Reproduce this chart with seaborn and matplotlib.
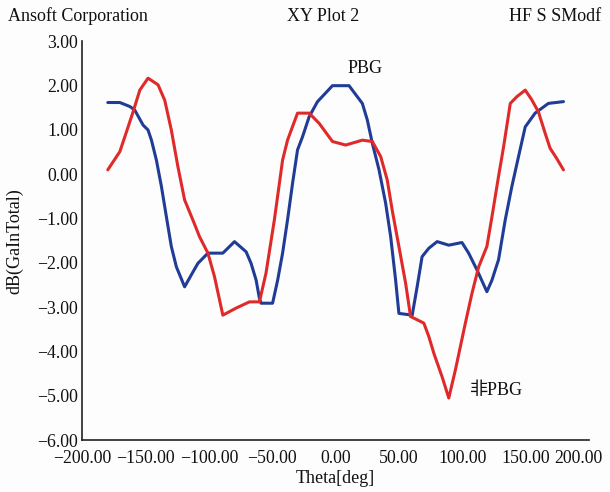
import matplotlib
matplotlib.use("Agg")
import matplotlib.pyplot as plt
import matplotlib.transforms as mtransforms
import seaborn as sns
import pandas as pd
from matplotlib.ticker import FuncFormatter

# ---- data ----
pbg_theta = [-180, -170.5, -162.6, -158.7, -152.1, -148.2, -145.5, -141.6, -137.6, -133.7,
             -129.8, -125.8, -119.3, -114, -108.8, -100.9, -89.1, -79.9, -70.7, -66.8,
             -62.8, -60.2, -58.9, -49.8, -45.8, -41.9, -38, -34, -30.1, -26.1,
             -20.9, -14.3, -5.1, -2.5, 10.6, 21.1, 25, 29, 34.3, 39.5,
             43.5, 47.4, 50, 60.5, 64.4, 68.3, 73.6, 80.2, 89.4, 99.8,
             105.1, 111.7, 119.5, 123.5, 128.7, 134, 139.2, 144.5, 149.8, 157.6,
             168.1, 180]
pbg_db = [1.62, 1.62, 1.53, 1.45, 1.11, 1.0, 0.77, 0.32, -0.28, -0.96,
          -1.63, -2.09, -2.54, -2.27, -2.01, -1.78, -1.78, -1.52, -1.75, -2.01,
          -2.39, -2.80, -2.91, -2.91, -2.39, -1.78, -1.03, -0.2, 0.55, 0.85,
          1.3, 1.64, 1.92, 2.0, 2.0, 1.6, 1.23, 0.7, 0.1, -0.65,
          -1.41, -2.39, -3.14, -3.18, -2.54, -1.86, -1.67, -1.52, -1.6, -1.54,
          -1.78, -2.16, -2.65, -2.39, -1.93, -1.03, -0.28, 0.4, 1.07, 1.38,
          1.6, 1.64]

npbg_theta = [-180, -170.5, -166.5, -160, -154.7, -148.2, -140.3, -135, -129.8, -124.6,
              -119.3, -112.8, -107.5, -100.9, -95.7, -89.1, -78.6, -68.1, -60.2, -55,
              -48.4, -41.9, -38, -30.1, -20.9, -13, -2.5, 8, 21.1, 29,
              35.6, 40.8, 44.7, 50, 55.3, 59.2, 69.7, 73.6, 77.6, 84.1,
              89.4, 94.6, 102.5, 107.7, 113, 119.5, 123.5, 128.7, 132.7, 138,
              143.1, 149.8, 155, 160.2, 165.5, 169.4, 174.6, 180]
npbg_db = [0.1, 0.51, 0.85, 1.41, 1.9, 2.17, 2.02, 1.67, 1.0, 0.17,
           -0.58, -1.03, -1.41, -1.78, -2.31, -3.18, -3.02, -2.88, -2.88, -2.23,
           -1.03, 0.32, 0.77, 1.38, 1.38, 1.15, 0.74, 0.66, 0.77, 0.74,
           0.4, -0.13, -0.81, -1.63, -2.46, -3.21, -3.36, -3.66, -4.04, -4.57,
           -5.05, -4.42, -3.36, -2.69, -2.09, -1.63, -0.96, -0.05, 0.62, 1.6,
           1.75, 1.9, 1.68, 1.41, 0.93, 0.59, 0.36, 0.1]

series_names = ["PBG", "非PBG"]
x_ticks = [-200, -150, -100, -50, 0, 50, 100, 150, 200]
y_ticks = [3, 2, 1, 0, -1, -2, -3, -4, -5, -6]

df = pd.concat([
    pd.DataFrame({"theta": pbg_theta, "db": pbg_db, "series": series_names[0]}),
    pd.DataFrame({"theta": npbg_theta, "db": npbg_db, "series": series_names[1]}),
], ignore_index=True)

sns.set_theme(style="white")
plt.rcParams["font.family"] = ["Liberation Serif", "Noto Sans CJK SC", "DejaVu Sans"]
plt.rcParams["axes.unicode_minus"] = True

fig = plt.figure(figsize=(6.1, 4.92), dpi=100)
fig.patch.set_facecolor("#fdfdfd")
ax = fig.add_axes([0.1352, 0.1055, 0.830, 0.8104])
ax.set_facecolor("#fdfdfd")

palette = {"PBG": "#203c96", "非PBG": "#e02a2a"}
sns.lineplot(data=df, x="theta", y="db", hue="series", palette=palette,
             estimator=None, sort=False, linewidth=2.2, legend=False, ax=ax)

ax.set_xlim(-200, 200)
ax.set_ylim(-6, 3)
ax.set_xticks(x_ticks)
ax.set_yticks(y_ticks)
fmt = FuncFormatter(lambda v, p: f"{v:.2f}".replace("-", "\u2212"))
ax.xaxis.set_major_formatter(fmt)
ax.yaxis.set_major_formatter(fmt)
ax.tick_params(axis="both", direction="in", length=6, width=1.0, color="#222222",
               labelsize=12.8, labelcolor="#111111", pad=3)
ax.tick_params(axis="x", pad=7)
for s in ["top", "right"]:
    ax.spines[s].set_visible(False)
for s in ["left", "bottom"]:
    ax.spines[s].set_color("#222222")
    ax.spines[s].set_linewidth(1.2)

ax.set_xlabel("Theta[deg]", fontsize=13, color="#111111", labelpad=2)
ax.set_ylabel("dB(GaInTotal)", fontsize=13, color="#111111", labelpad=10)

ax.text(23.6, 2.39, "PBG", fontsize=13, ha="center", va="center", color="#111111")
ax.text(127, -4.87, "非PBG", fontsize=13, ha="center", va="center", color="#111111")

fig.text(0.013, 0.967, "Ansoft Corporation", fontsize=13, ha="left", va="center", color="#111111")
fig.text(0.53, 0.967, "XY Plot 2", fontsize=13, ha="center", va="center", color="#111111")
fig.text(0.985, 0.967, "HF S SModf", fontsize=13, ha="right", va="center", color="#111111")

# shift the last tick label slightly so it stays inside the figure, as in the reference
fig.canvas.draw()
labels = ax.get_xticklabels()
labels[-1].set_transform(labels[-1].get_transform() +
                         mtransforms.ScaledTranslation(-10 / 100, 0, fig.dpi_scale_trans))

fig.savefig("out.png", dpi=100, facecolor=fig.get_facecolor())
